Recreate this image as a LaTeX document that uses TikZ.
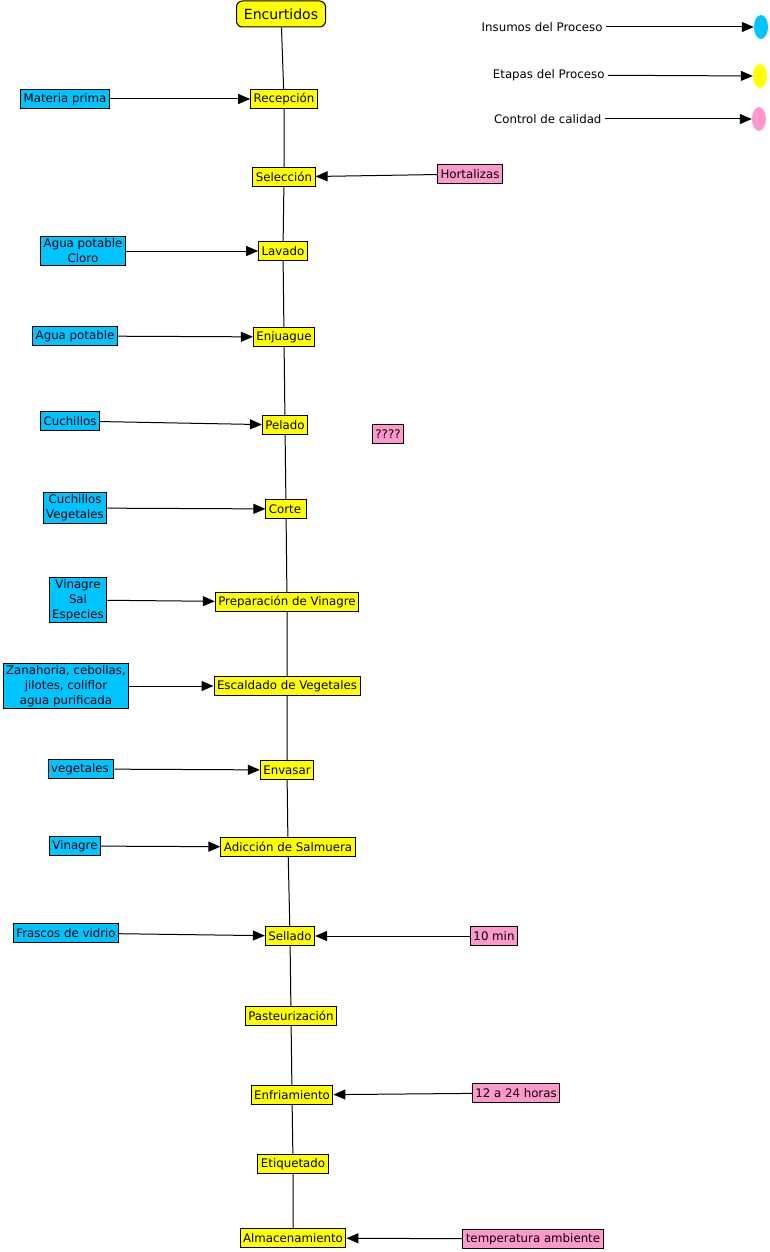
\documentclass[tikz,border=0pt]{standalone}
\usepackage{fontspec}
\setmainfont{DejaVu Sans}
\usepackage{xcolor}
\usetikzlibrary{arrows.meta,shapes.geometric}

\definecolor{insumo}{RGB}{0,196,255}
\definecolor{etapa}{RGB}{255,255,0}
\definecolor{control}{RGB}{255,153,204}

\tikzset{
  caja/.style={draw, line width=1pt, inner xsep=3pt, inner ysep=2pt, align=center,
    font=\fontsize{11.8}{15}\selectfont, minimum height=19pt},
  etapabox/.style={caja, fill=etapa},
  insumobox/.style={caja, fill=insumo},
  controlbox/.style={caja, fill=control},
  punto/.style={draw=none, ellipse, minimum width=14pt, minimum height=24pt, inner sep=0pt},
  flecha/.style={-{Triangle[length=12pt,width=10pt]}, line width=1pt},
  linea/.style={line width=1pt}
}

\begin{document}
\begin{tikzpicture}[x=1pt, y=-1pt]
\useasboundingbox (0,0) rectangle (769,1252);

% titulo
\node[draw, fill=etapa, rounded corners=6pt, line width=1pt, minimum width=89pt, minimum height=26pt,
  font=\fontsize{14}{16}\selectfont](titulo) at (281,14){Encurtidos};

% etapas del proceso
\node[etapabox](recep) at (284,99){Recepción};
\node[etapabox](selec) at (284,177){Selección};
\node[etapabox](lavado) at (283,251){Lavado};
\node[etapabox](enjuague) at (284,337){Enjuague};
\node[etapabox](pelado) at (285,425){Pelado};
\node[etapabox](corte) at (286,509){Corte\,};
\node[etapabox](prepvin) at (287,602){Preparación de Vinagre};
\node[etapabox](escald) at (287,686){Escaldado de Vegetales};
\node[etapabox](envasar) at (287,770){Envasar};
\node[etapabox](salmuera) at (288,847){Adicción de Salmuera};
\node[etapabox](sellado) at (290,936){Sellado};
\node[etapabox](pasteur) at (291,1016){Pasteurización};
\node[etapabox](enfria) at (292,1095){Enfriamiento};
\node[etapabox](etiq) at (293,1164){Etiquetado};
\node[etapabox](almac) at (293,1238){Almacenamiento};

% insumos
\node[insumobox](materia) at (65,99){Materia prima};
\node[insumobox](aguacloro) at (83,251){Agua potable\\Cloro};
\node[insumobox](agua) at (75,336){Agua potable};
\node[insumobox](cuchillos) at (70,421){Cuchillos};
\node[insumobox](cuchveg) at (75,508){Cuchillos\\Vegetales};
\node[insumobox](vinsal) at (78,600){Vinagre\\Sal\\Especies};
\node[insumobox](zanahoria) at (66,686){Zanahoria, cebollas,\\jilotes, coliflor\\agua purificada};
\node[insumobox](vegetales) at (81,769){vegetales\,};
\node[insumobox](vinagre) at (75,846){Vinagre};
\node[insumobox](frascos) at (66,933){Frascos de vidrio};

% control de calidad
\node[controlbox](hortal) at (470,174){Hortalizas};
\node[controlbox](dudas) at (388,434){????};
\node[controlbox](diezmin) at (494,936){10 min};
\node[controlbox](horas) at (516,1093){12 a 24 horas};
\node[controlbox](temp) at (533,1239){temperatura ambiente};

% leyenda
\node[font=\fontsize{11.8}{14}\selectfont, anchor=east](leyins) at (606,27){Insumos del Proceso};
\node[font=\fontsize{11.8}{14}\selectfont, anchor=east](leyeta) at (608,75){Etapas del Proceso};
\node[font=\fontsize{11.8}{14}\selectfont, anchor=east](leycal) at (605,119){Control de calidad};
\node[punto, fill=insumo](elins) at (761,27){};
\node[punto, fill=etapa](eleta) at (760,76){};
\node[punto, fill=control](elcal) at (759,119){};
\draw[flecha] (leyins) -- (elins);
\draw[flecha] (leyeta) -- (eleta);
\draw[flecha] (leycal) -- (elcal);

% linea principal
\draw[linea] (titulo) -- (recep) -- (selec) -- (lavado) -- (enjuague) -- (pelado) -- (corte)
  -- (prepvin) -- (escald) -- (envasar) -- (salmuera) -- (sellado) -- (pasteur)
  -- (enfria) -- (etiq) -- (almac);

% entradas
\draw[flecha] (materia) -- (recep);
\draw[flecha] (hortal) -- (selec);
\draw[flecha] (aguacloro) -- (lavado);
\draw[flecha] (agua) -- (enjuague);
\draw[flecha] (cuchillos) -- (pelado);
\draw[flecha] (cuchveg) -- (corte);
\draw[flecha] (vinsal) -- (prepvin);
\draw[flecha] (zanahoria) -- (escald);
\draw[flecha] (vegetales) -- (envasar);
\draw[flecha] (vinagre) -- (salmuera);
\draw[flecha] (frascos) -- (sellado);
\draw[flecha] (diezmin) -- (sellado);
\draw[flecha] (horas) -- (enfria);
\draw[flecha] (temp) -- (almac);
\end{tikzpicture}
\end{document}
